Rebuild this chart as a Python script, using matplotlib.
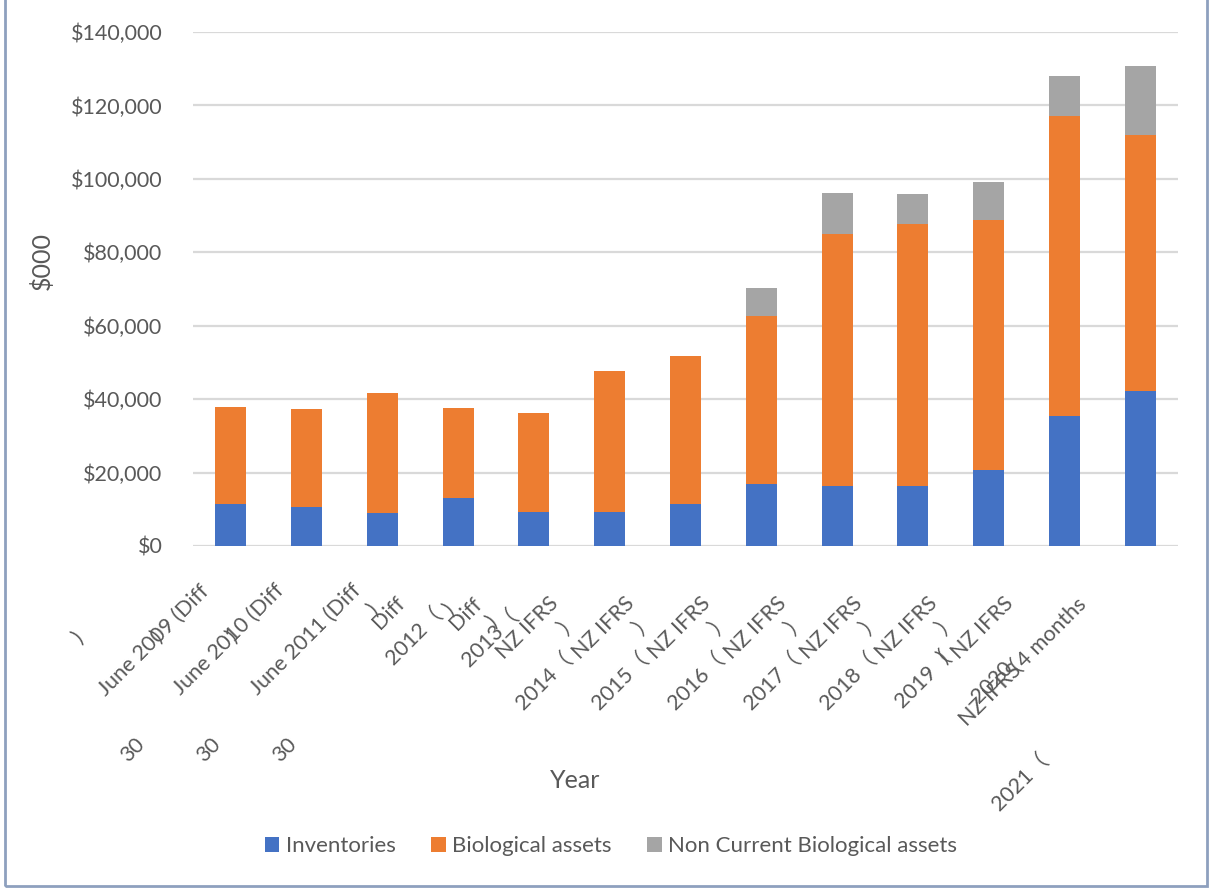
import matplotlib
matplotlib.use("Agg")
import matplotlib.pyplot as plt
from matplotlib.patches import Patch, Rectangle

# Stacked asset values, $000, one entry per reporting period.
inventories = [11.4, 10.5, 8.9, 13.0, 9.2, 9.2, 11.4, 16.8, 16.3, 16.3, 20.6, 35.4, 42.2]
biological = [26.4, 26.7, 32.7, 24.5, 27.0, 38.4, 40.3, 45.9, 68.7, 71.4, 68.2, 81.8, 69.8]
non_current_bio = [0, 0, 0, 0, 0, 0, 0, 7.6, 11.2, 8.2, 10.4, 10.9, 18.8]

# Category labels as they come out once wrapped and rotated.
label_parts = [
    [")", "June 2009 (Diff", "30"],
    [")", "June 2010 (Diff", "30"],
    [")", "June 2011 (Diff", "30", ")", "Diff"],
    ["2012（", ")", "Diff"],
    ["2013（", ")", "NZ IFRS", "）"],
    ["2014（", "NZ IFRS", "）"],
    ["2015（", "NZ IFRS", "）"],
    ["2016（", "NZ IFRS", "）"],
    ["2017（", "NZ IFRS", "）"],
    ["2018（", "NZ IFRS", "）"],
    ["2019（", ")", "NZ IFRS"],
    ["2020", "NZ IFRS", "（4 months"],
    ["2021（"],
]
# pixel offsets of each piece from its tick (right, down)
label_offsets = [
    [(-153, 92), (-77, 94), (-98, 204)],
    [(-150, 91), (-78, 93), (-98, 204)],
    [(-151, 91), (-77, 93), (-98, 204), (-10, 64), (6, 67)],
    [(-44, 90), (-9, 64), (8, 68)],
    [(-44, 92), (-42, 76), (-6, 82), (36, 78)],
    [(-65, 135), (-6, 82), (35, 78)],
    [(-65, 135), (-6, 82), (35, 78)],
    [(-65, 135), (-6, 82), (35, 78)],
    [(-65, 135), (-6, 82), (35, 78)],
    [(-65, 135), (-6, 82), (35, 78)],
    [(-65, 133), (-46, 112), (-6, 82)],
    [(-72, 136), (-74, 149), (-20, 94)],
    [(-120, 236)],
]

series = [
    ("Inventories", inventories, "#4472C4"),
    ("Biological assets", biological, "#ED7D31"),
    ("Non Current Biological assets", non_current_bio, "#A5A5A5"),
]

TXT = "#595959"
FONT = ["Lato", "Noto Sans CJK SC", "DejaVu Sans"]
plt.rcParams["font.family"] = FONT

W, H = 1209, 888
fig = plt.figure(figsize=(W / 100, H / 100), dpi=100)
ax = fig.add_axes([193 / W, (H - 546) / H, 985 / W, 514 / H])

x = list(range(len(inventories)))
bottom = [0.0] * len(x)
for name, vals, color in series:
    vals_k = [v * 1000 for v in vals]
    ax.bar(x, vals_k, width=0.41, bottom=bottom, color=color, label=name, zorder=2)
    bottom = [b + v for b, v in zip(bottom, vals_k)]

ax.set_xlim(-0.5, len(x) - 0.5)
ax.set_ylim(0, 140000)
ax.set_yticks(range(0, 140001, 20000))
ax.set_yticklabels([f"${v:,}" for v in range(0, 140001, 20000)], fontsize=15.5, color=TXT)
ax.tick_params(axis="y", length=0, pad=22)
ax.set_xticks([])
ax.grid(axis="y", color="#D9D9D9", linewidth=1.6, zorder=0)
for s in ax.spines.values():
    s.set_visible(False)

for i, (parts, offs) in enumerate(zip(label_parts, label_offsets)):
    for txt, (dx, dy) in zip(parts, offs):
        ax.annotate(txt, xy=(i, 0), xycoords=("data", "axes fraction"),
                    xytext=(dx, -dy), textcoords="offset pixels",
                    rotation=45, rotation_mode="anchor", ha="center", va="center",
                    fontsize=15.5, color=TXT, annotation_clip=False)

fig.text(42 / W, 1 - 261 / H, "$000", rotation=90, ha="center", va="center",
         fontsize=18, color=TXT)
fig.text(575 / W, 1 - 780 / H, "Year", ha="center", va="center", fontsize=18, color=TXT)

handles = [Patch(facecolor=c, label=n) for n, _, c in series]
fig.legend(handles=handles, loc="center", bbox_to_anchor=(611 / W, 1 - 846 / H),
           ncol=3, frameon=False, fontsize=16, handlelength=0.65, handleheight=0.65,
           handletextpad=0.3, columnspacing=1.6, labelcolor=TXT)

# chart-area border (top edge sits off the canvas)
fig.add_artist(Rectangle((5 / W, 2 / H), 1202 / W, 1.1, transform=fig.transFigure,
                         fill=False, edgecolor="#8EA0BE", linewidth=2))

fig.savefig("out.png", dpi=100)
